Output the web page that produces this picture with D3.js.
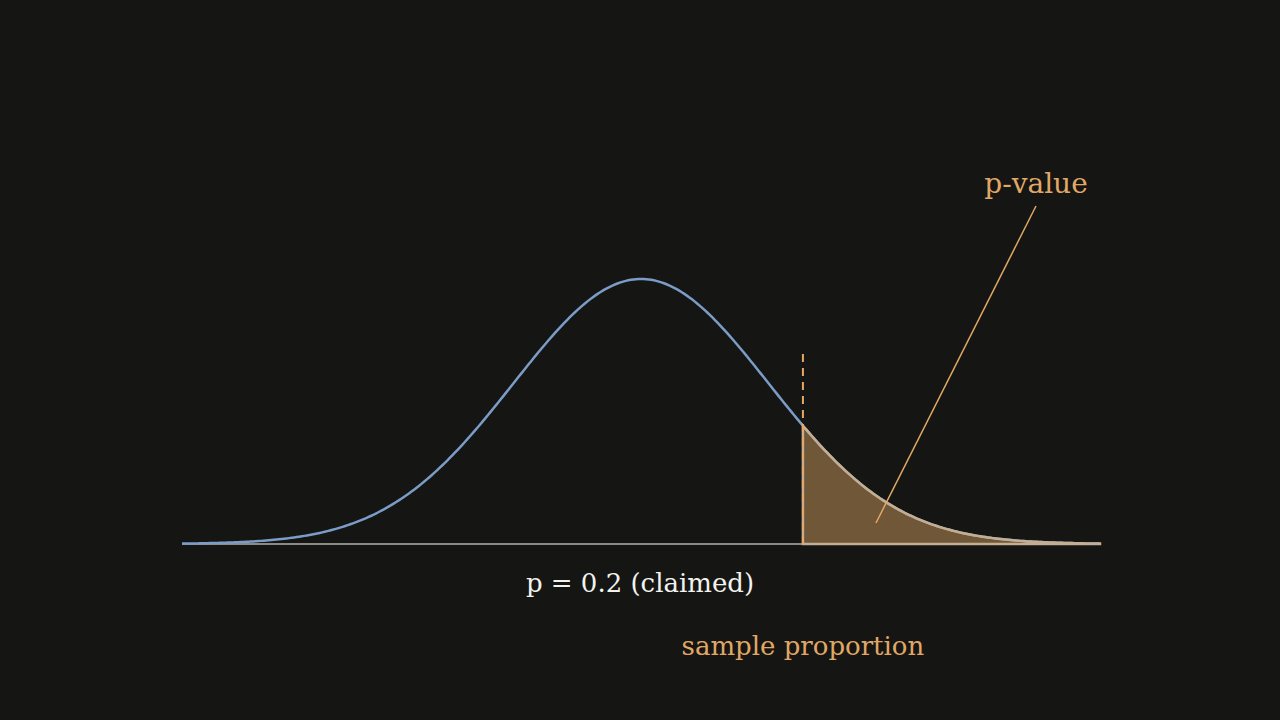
<!DOCTYPE html>
<html><head><meta charset="utf-8">
<script src="https://cdn.jsdelivr.net/npm/d3@7"></script>
<style>body{margin:0;background:#151513}text{font-family:"DejaVu Serif",serif}</style>
</head><body><svg width="1280" height="720"></svg>
<script>
// sampling distribution under the claim p = 0.2
const zRange = [-3.6, 3.6]
const zCut = [1.27]
const labels = ["p = 0.2 (claimed)", "sample proportion", "p-value"]

const svg = d3.select("svg")
svg.append("rect").attr("width", 1280).attr("height", 720).attr("fill", "#151513")

const x = d3.scaleLinear().domain(zRange).range([182, 1100])
const y = d3.scaleLinear().domain([0, 1]).range([544, 279])
const pdf = z => Math.exp(-z * z / 2)

const pts = d3.range(zRange[0], zRange[1] + 0.001, 0.02)
const tail = pts.filter(z => z >= zCut[0])
tail.unshift(zCut[0])

const line = d3.line().x(d => x(d)).y(d => y(pdf(d)))
const area = d3.area().x(d => x(d)).y0(y(0)).y1(d => y(pdf(d)))

svg.append("line").attr("x1", x(zRange[0])).attr("x2", x(zRange[1]))
  .attr("y1", y(0)).attr("y2", y(0)).attr("stroke", "#8a8a86").attr("stroke-width", 2)

svg.append("path").datum(pts).attr("d", line)
  .attr("fill", "none").attr("stroke", "#7b9cc6").attr("stroke-width", 2.5)

svg.append("path").datum(tail).attr("d", area)
  .attr("fill", "#e0a867").attr("fill-opacity", 0.45)
  .attr("stroke", "#c4ae93").attr("stroke-width", 2.5)

svg.append("line").attr("x1", x(zCut[0])).attr("x2", x(zCut[0]))
  .attr("y1", 354).attr("y2", y(0))
  .attr("stroke", "#e6a865").attr("stroke-width", 2).attr("stroke-dasharray", "8,6")

// annotation pointer
svg.append("line").attr("x1", 1036).attr("y1", 206).attr("x2", 876).attr("y2", 523)
  .attr("stroke", "#e0a867").attr("stroke-width", 1.5)

svg.append("text").attr("x", 640).attr("y", 592).attr("text-anchor", "middle")
  .attr("fill", "#f2f2ee").attr("font-size", 26).text(labels[0])
svg.append("text").attr("x", x(zCut[0])).attr("y", 655).attr("text-anchor", "middle")
  .attr("fill", "#e0a867").attr("font-size", 26).text(labels[1])
svg.append("text").attr("x", 1036).attr("y", 193).attr("text-anchor", "middle")
  .attr("fill", "#e0a867").attr("font-size", 28).text(labels[2])
</script></body></html>
